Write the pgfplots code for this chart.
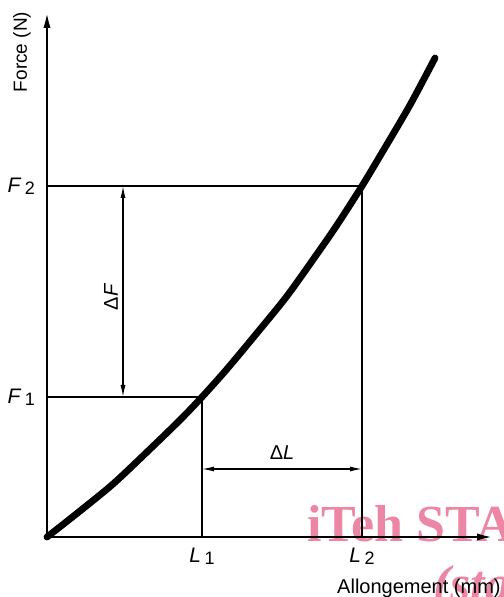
\documentclass[border=0pt]{standalone}
\usepackage{pgfplots}
\pgfplotsset{compat=1.18}
\usepackage{fontspec}
\setmainfont{Liberation Sans}
\newfontfamily\wmfont{Liberation Serif}
\usetikzlibrary{arrows.meta}
\definecolor{wmpink}{RGB}{236,134,164}

\begin{document}
\begin{tikzpicture}
% watermark, behind the chart
\node[anchor=base west, inner sep=0, text=wmpink,
      font=\wmfont\bfseries\fontsize{26}{26}\selectfont] at (130pt,-2.5pt) {iTeh STANDARD PREVIEW};
\node[anchor=base west, inner sep=0, text=wmpink,
      font=\wmfont\bfseries\itshape\fontsize{26}{26}\selectfont] at (193pt,-32pt) {(standards.iteh.ai)};

\begin{axis}[
    x=0.5pt, y=0.5pt,
    xmin=0, xmax=448,
    ymin=0, ymax=527,
    axis lines=left,
    axis line style={line width=1.4pt, -{Latex[length=9pt,width=3.5pt]}},
    xtick={155,315},
    xticklabels={\textit{L}\,\raisebox{-0.8pt}{\small 1}, \textit{L}\,\raisebox{-0.8pt}{\small 2}},
    ytick={140,351},
    yticklabels={\textit{F}\,\raisebox{-0.8pt}{\small 1}, \textit{F}\,\raisebox{-0.8pt}{\small 2}},
    major tick length=0pt,
    tick label style={font=\fontsize{10.5}{10.5}\selectfont},
    xticklabel style={yshift=-2pt},
    yticklabel style={xshift=-2.5pt},
    clip=false,
]
% guide lines
\addplot[line width=0.6pt] coordinates {(0,351) (315,351) (315,0)};
\addplot[line width=0.6pt] coordinates {(0,140) (155,140) (155,0)};

% force-elongation curve
\addplot[line width=3.4pt, smooth, line cap=round] coordinates {
    (0,0) (33,26) (66,53) (100,85) (133,117) (155,140) (180,168)
    (210,204) (240,241) (270,283) (290,312) (315,351) (336,386)
    (363,432) (388,479)
};

% dimension arrows
\draw[line width=0.6pt, {Latex[length=6pt,width=2.5pt]}-{Latex[length=6pt,width=2.5pt]}]
    (axis cs:76,351) -- (axis cs:76,140);
\draw[line width=0.6pt, {Latex[length=6pt,width=2.5pt]}-{Latex[length=6pt,width=2.5pt]}]
    (axis cs:155,68) -- (axis cs:315,68);
\node[rotate=90, font=\fontsize{10}{10}\selectfont] at (axis cs:64,240) {Δ\textit{F}};
\node[font=\fontsize{10}{10}\selectfont] at (axis cs:235,84) {Δ\textit{L}};

% axis titles
\node[rotate=90, font=\fontsize{9.5}{9.5}\selectfont] at (axis cs:-25,485) {Force (N)};
\node[anchor=base east, inner sep=0, font=\fontsize{10}{10}\selectfont] at (axis cs:454,-56) {Allongement (mm)};
\end{axis}

\pgfresetboundingbox
\path[use as bounding box] (-23.5pt,-30pt) rectangle (228pt,268.5pt);
\end{tikzpicture}
\end{document}
